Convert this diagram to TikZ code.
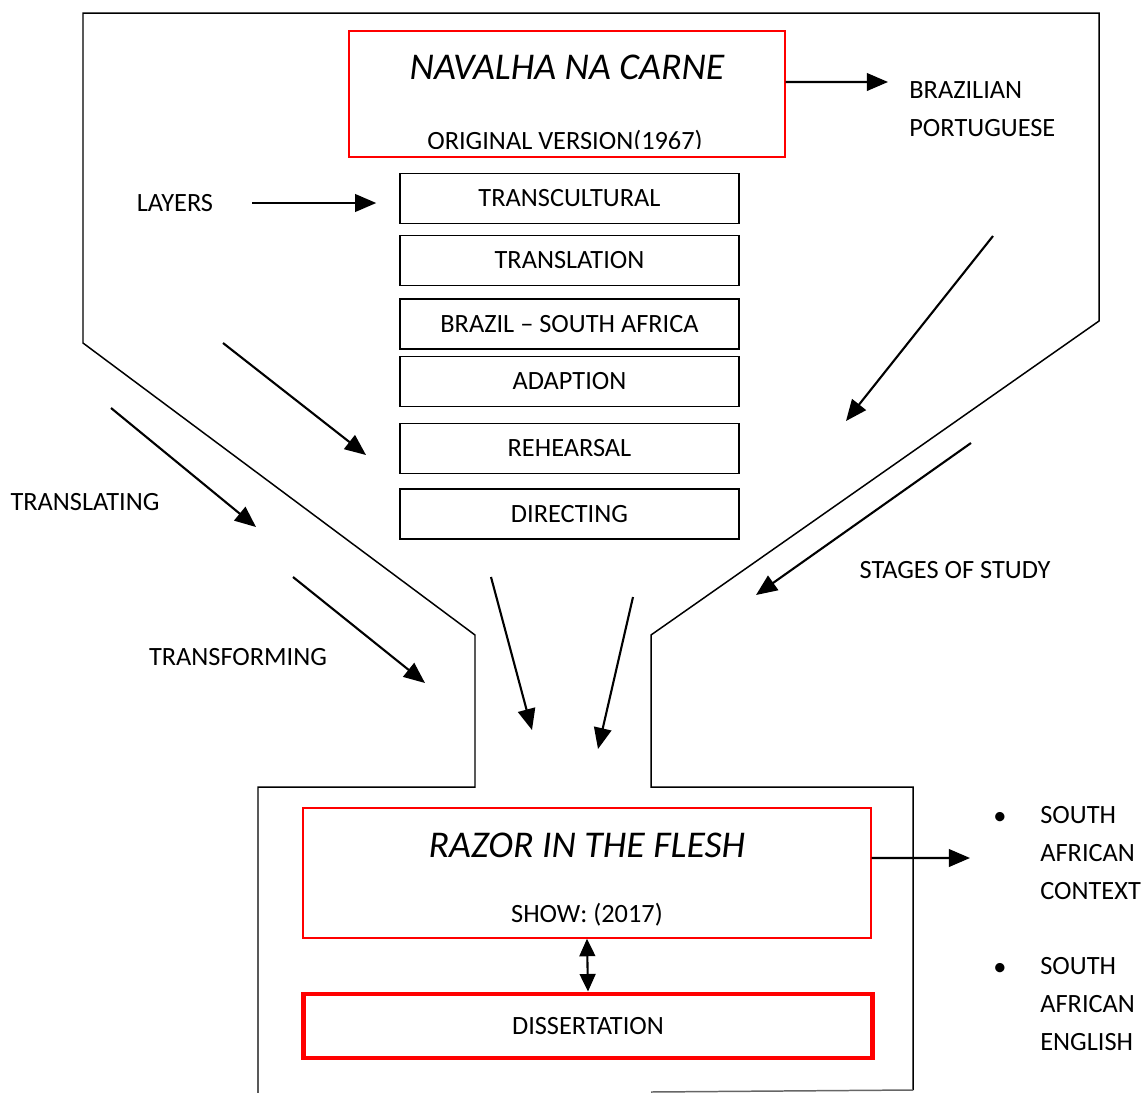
\documentclass[tikz,border=0pt]{standalone}
\usepackage{fontspec}
\setmainfont{Carlito}
\usetikzlibrary{arrows.meta,positioning}

\begin{document}
\begin{tikzpicture}[x=0.02cm, y=-0.02cm, >=Stealth,
    label/.style={font=\fontsize{15}{21.5}\selectfont, inner sep=0pt},
    title/.style={font=\fontsize{21.5}{26}\selectfont\itshape, inner sep=0pt},
    layer/.style={rectangle, draw=black, line width=1.1pt, minimum width=6.78cm, minimum height=1cm, font=\fontsize{15}{18}\selectfont},
    work/.style={rectangle, draw=red, line width=0.8pt},
    arrow/.style={line width=1.2pt, -{Triangle[length=12pt,width=10pt]}},
    outline/.style={line width=0.85pt, line join=miter}]

    \useasboundingbox (0,0) rectangle (1144,1093);

    % funnel
    \draw[outline] (258,1093) -- (258,787) -- (475,787) -- (475,635) -- (83,343) -- (83,13) -- (1099,13) -- (1099,321) -- (651,635) -- (651,787) -- (913,787) -- (913,1090);
    \draw[outline, black!60] (651,1092) -- (913,1090);

    % original play
    \node[work, minimum width=8.72cm, minimum height=2.52cm] at (567,94) (nav) {};
    \node[title] at (567,67) (navtitle) {NAVALHA NA CARNE};
    \begin{scope}
        \clip (350,100) rectangle (784,148);
        \node[label] at (565,142) (navsub) {ORIGINAL VERSION(1967)};
    \end{scope}
    \node[label, align=left, anchor=north west] at (909,81) (lang) {BRAZILIAN\\PORTUGUESE};

    % layers
    \node[layer] at (569.5,198.5) (tc) {TRANSCULTURAL};
    \node[layer] at (569.5,260.5) (tr) {TRANSLATION};
    \node[layer] at (569.5,324) (bsa) {BRAZIL -- SOUTH AFRICA};
    \node[layer] at (569.5,381.5) (ad) {ADAPTION};
    \node[layer] at (569.5,448.5) (re) {REHEARSAL};
    \node[layer] at (569.5,514) (di) {DIRECTING};

    \node[label] at (175,203) (layers) {LAYERS};
    \node[label] at (85,502) (translating) {TRANSLATING};
    \node[label] at (238,657) (transforming) {TRANSFORMING};
    \node[label] at (955,570) (stages) {STAGES OF STUDY};

    % new show
    \node[work, minimum width=11.36cm, minimum height=2.6cm] at (587,873) (razor) {};
    \node[title] at (587,845) (razortitle) {RAZOR IN THE FLESH};
    \node[label] at (587,915) (show) {SHOW: (2017)};
    \node[rectangle, draw=red, line width=2.8pt, minimum width=11.4cm, minimum height=1.28cm, font=\fontsize{15}{18}\selectfont] at (588,1026) (diss) {DISSERTATION};

    \node[label] at (1000,818) (b1) {\textbullet};
    \node[label, align=left, anchor=north west] at (1040,806) (ctx) {SOUTH\\AFRICAN\\CONTEXT};
    \node[label] at (1000,969) (b2) {\textbullet};
    \node[label, align=left, anchor=north west] at (1040,957) (eng) {SOUTH\\AFRICAN\\ENGLISH};

    % free arrow ends
    \coordinate (navout) at (888,82);
    \coordinate (razorout) at (970,858);
    \coordinate (a1s) at (223,343);  \coordinate (a1e) at (366,455);
    \coordinate (a2s) at (111,408);  \coordinate (a2e) at (256,527);
    \coordinate (a3s) at (293,577);  \coordinate (a3e) at (425,683);
    \coordinate (a4s) at (993,236);  \coordinate (a4e) at (846,421);
    \coordinate (a5s) at (971,443);  \coordinate (a5e) at (756,595);
    \coordinate (a6s) at (491,577);  \coordinate (a6e) at (532,730);
    \coordinate (a7s) at (633,597);  \coordinate (a7e) at (598,749);

    \draw[arrow] ([yshift=0.24cm]nav.east) -- (navout);
    \draw[arrow, shorten <=22pt, shorten >=13pt] (layers.east) -- (layers.east -| tc.west);
    \draw[arrow] (a1s) -- (a1e);
    \draw[arrow] (a2s) -- (a2e);
    \draw[arrow] (a3s) -- (a3e);
    \draw[arrow] (a4s) -- (a4e);
    \draw[arrow] (a5s) -- (a5e);
    \draw[arrow] (a6s) -- (a6e);
    \draw[arrow] (a7s) -- (a7e);
    \draw[arrow] ([yshift=0.3cm]razor.east) -- (razorout);
    \draw[line width=1.2pt, {Triangle[length=10pt,width=9pt]}-{Triangle[length=10pt,width=9pt]}] (razor.south) -- (diss.north);
\end{tikzpicture}
\end{document}
